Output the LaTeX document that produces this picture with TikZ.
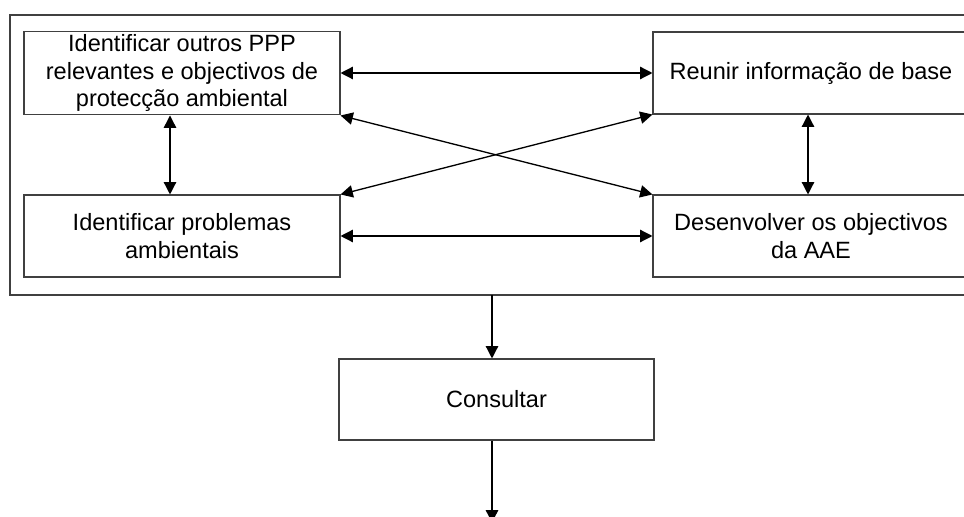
\documentclass[tikz,border=0pt]{standalone}
\usepackage{fontspec}
\setmainfont{Liberation Sans}
\usetikzlibrary{arrows.meta, calc}
\tikzset{etapa/.style={draw=black!75, line width=0.6pt, minimum width=6.32cm, minimum height=1.64cm, align=center, inner sep=2pt, font=\fontsize{13.4pt}{15.6pt}\selectfont},
seta/.style={line width=0.75pt, {Triangle[length=7pt,width=7pt]}-{Triangle[length=7pt,width=7pt]}},
setab/.style={line width=0.75pt, -{Triangle[length=7pt,width=7pt]}}}

\begin{document}
\begin{tikzpicture}
        \useasboundingbox (0,0) rectangle (19.28,-10.34);
        \draw[draw=black!75, line width=0.6pt] (0.2,-0.3) rectangle (19.66,-5.9);
        % as quatro etapas
        \node[etapa] (ppp) at (3.64,-1.46) {Identificar outros PPP\\relevantes e objectivos de\\protecção ambiental};
        \node[etapa] (prob) at (3.64,-4.72) {Identificar problemas\\ambientais};
        \node[etapa] (base) at (16.22,-1.46) {Reunir informação de base};
        \node[etapa] (obj) at (16.22,-4.72) {Desenvolver os objectivos\\da AAE};
        \node[etapa, minimum width=6.3cm, minimum height=1.62cm] (cons) at (9.93,-7.99) {Consultar};
        
        \draw[seta] (ppp.east) to (base.west);
        \draw[seta] (prob.east) to (obj.west);
        \draw[seta] ([xshift=-0.24cm]ppp.south) to ([xshift=-0.24cm]prob.north);
        \draw[seta] ([xshift=-0.06cm]base.south) to ([xshift=-0.06cm]obj.north);
        \draw[seta] (ppp.south east) to (obj.north west);
        \draw[seta] (prob.north east) to (base.south west);
        
        \coordinate (moldura) at (9.84,-5.9);
        \coordinate (fim) at (9.84,-10.45);
        \draw[setab] (moldura) to (moldura |- cons.north);
        \draw[setab] (fim |- cons.south) to (fim);
\end{tikzpicture}
\end{document}
